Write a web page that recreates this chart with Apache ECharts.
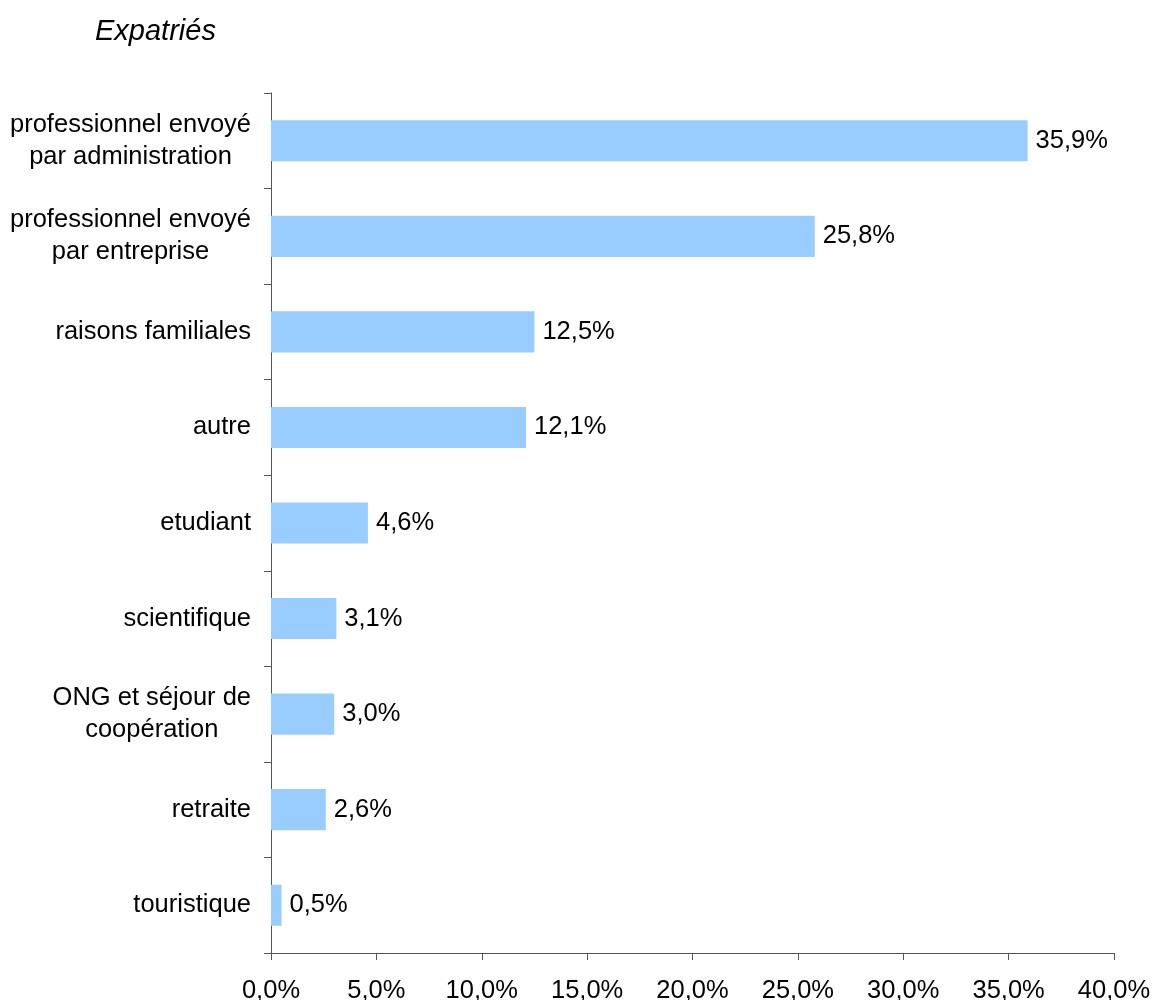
<!DOCTYPE html>
<html>
<head>
<meta charset="utf-8">
<script src="https://cdn.jsdelivr.net/npm/echarts@6/dist/echarts.min.js"></script>
<style>
  html, body { margin: 0; padding: 0; background: #fff; }
  #chart { width: 1153px; height: 1000px; }
</style>
</head>
<body>
<div id="chart"></div>
<script>
// Motifs d'expatriation, part en pourcentage
const categories = [
  'professionnel envoyé\npar administration',
  'professionnel envoyé\npar entreprise',
  'raisons familiales',
  'autre',
  'etudiant',
  'scientifique',
  'ONG et séjour de\ncoopération',
  'retraite',
  'touristique'
];
const values = [35.9, 25.8, 12.5, 12.1, 4.6, 3.1, 3.0, 2.6, 0.5];
const xTicks = { min: 0, max: 40, interval: 5 };

const FONT = '"Liberation Sans", Arial, sans-serif';
const FS = 25.5;
const fmt = v => v.toFixed(1).replace('.', ',') + '%';

const chart = echarts.init(document.getElementById('chart'), null, { renderer: 'canvas' });
chart.setOption({
  animation: false,
  backgroundColor: '#ffffff',
  title: {
    text: 'Expatriés',
    left: 90,
    top: 12,
    textStyle: { fontFamily: FONT, fontSize: 29, fontStyle: 'italic', fontWeight: 'normal', color: '#000' }
  },
  grid: { left: 271, right: 39, top: 93, bottom: 47, containLabel: false, outerBoundsMode: 'none' },
  xAxis: {
    type: 'value',
    min: xTicks.min,
    max: xTicks.max,
    interval: xTicks.interval,
    splitLine: { show: false },
    axisLine: { show: true, lineStyle: { color: '#555', width: 1 } },
    axisTick: { show: true, length: 7, lineStyle: { color: '#555' } },
    axisLabel: {
      margin: 25,
      formatter: v => fmt(v),
      fontFamily: FONT, fontSize: FS, color: '#000'
    }
  },
  yAxis: {
    type: 'category',
    inverse: true,
    data: categories,
    axisLine: { show: true, lineStyle: { color: '#555', width: 1 } },
    axisTick: { show: true, length: 7, alignWithLabel: false, lineStyle: { color: '#555' } },
    axisLabel: {
      margin: 20,
      align: 'right',
      formatter: v => v.split('\n').map(s => '{c|' + s + '}').join('\n'),
      rich: { c: { align: 'center', fontFamily: FONT, fontSize: FS, color: '#000', lineHeight: 32 } }
    }
  },
  series: [{
    type: 'bar',
    data: values,
    barWidth: '43%',
    itemStyle: { color: '#99CCFF' },
    label: {
      show: true,
      position: 'right',
      distance: 8,
      formatter: p => fmt(p.value),
      fontFamily: FONT, fontSize: FS, color: '#000'
    }
  }]
});
</script>
</body>
</html>
